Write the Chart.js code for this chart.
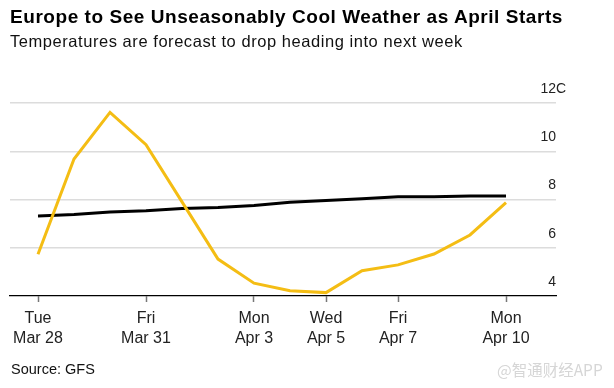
<!DOCTYPE html>
<html>
<head>
<meta charset="utf-8">
<script src="https://cdn.jsdelivr.net/npm/chart.js@4.4.0/dist/chart.umd.min.js"></script>
<style>
  html, body { margin: 0; padding: 0; background: #fff; }
  #wrap { position: relative; width: 614px; height: 388px; overflow: hidden; font-family: "Liberation Sans", Arial, sans-serif; }
  #c { position: absolute; left: 0; top: 0; }
  .t { position: absolute; white-space: nowrap; color: #000; line-height: 1; }
  #title { left: 10px; top: 6.6px; font-size: 19px; font-weight: bold; letter-spacing: 0.55px; }
  #sub { left: 10px; top: 32.7px; font-size: 16.5px; color: #111; letter-spacing: 0.55px; }
  #src { left: 11px; top: 361.7px; font-size: 14.5px; color: #111; }
  #wm { left: 497px; top: 362px; font-size: 15.5px; color: #d6d6d6; font-family: "Noto Sans CJK SC", sans-serif; }
</style>
</head>
<body>
<div id="wrap">
  <canvas id="c" width="614" height="388"></canvas>
  <div class="t" id="title">Europe to See Unseasonably Cool Weather as April Starts</div>
  <div class="t" id="sub">Temperatures are forecast to drop heading into next week</div>
  <div class="t" id="src">Source: GFS</div>
  <div class="t" id="wm">@智通财经APP</div>
</div>
<script>
// Daily dates, Mar 28 .. Apr 10
const dates = ["Mar 28","Mar 29","Mar 30","Mar 31","Apr 1","Apr 2","Apr 3","Apr 4","Apr 5","Apr 6","Apr 7","Apr 8","Apr 9","Apr 10"];
const weekdays = ["Tue","Wed","Thu","Fri","Sat","Sun","Mon","Tue","Wed","Thu","Fri","Sat","Sun","Mon"];
// Forecast temperature (yellow)
const forecast = [5.73, 9.68, 11.61, 10.27, 7.9, 5.53, 4.53, 4.22, 4.14, 5.05, 5.29, 5.74, 6.53, 7.87];
// Normal temperature (black)
const normal = [7.32, 7.38, 7.48, 7.53, 7.63, 7.67, 7.75, 7.89, 7.96, 8.03, 8.11, 8.11, 8.14, 8.14];
// Labelled x ticks (indices into dates)
const xTickIdx = [0, 3, 6, 8, 10, 13];
// Y ticks
const yTicks = [4, 6, 8, 10, 12];
const yUnit = "C";

const pts = arr => arr.map((v, i) => ({ x: i, y: v }));

const unitPlugin = {
  id: 'unit',
  afterDraw(chart) {
    const y = chart.scales.y;
    const ctx = chart.ctx;
    ctx.save();
    ctx.font = '14px "Liberation Sans", Arial, sans-serif';
    ctx.fillStyle = '#222';
    ctx.textAlign = 'left';
    ctx.textBaseline = 'middle';
    ctx.fillText(yUnit, chart.chartArea.right, y.getPixelForValue(12) - 14);
    ctx.restore();
  }
};

new Chart(document.getElementById('c'), {
  type: 'line',
  data: {
    datasets: [
      { label: 'Normal', data: pts(normal), borderColor: '#000', borderWidth: 3, pointRadius: 0, tension: 0, order: 2 },
      { label: 'Forecast', data: pts(forecast), borderColor: '#f4bd14', borderWidth: 3, pointRadius: 0, tension: 0, order: 1 }
    ]
  },
  options: {
    responsive: false,
    animation: false,
    layout: { padding: { left: 10, right: 58, top: 103, bottom: 0 } },
    plugins: { legend: { display: false }, tooltip: { enabled: false } },
    scales: {
      x: {
        type: 'linear',
        min: -28/36,
        max: 13 + 50/36,
        afterBuildTicks: s => { s.ticks = xTickIdx.map(v => ({ value: v })); },
        afterFit: s => { s.height = 92; },
        grid: { display: true, drawOnChartArea: false, drawTicks: true, tickLength: 6, tickColor: '#777', tickWidth: 1.5 },
        border: { display: true, color: '#000', width: 1.3 },
        ticks: {
          autoSkip: false, maxRotation: 0, padding: 7,
          color: '#222',
          font: { family: '"Liberation Sans", Arial, sans-serif', size: 16, lineHeight: 1.25 },
          callback: v => [weekdays[v], dates[v]]
        }
      },
      y: {
        position: 'right',
        min: 4, max: 12,
        afterBuildTicks: s => { s.ticks = yTicks.map(v => ({ value: v })); },
        afterFit: s => { s.width = 0; },
        grid: { drawTicks: false, color: c => c.tick && c.tick.value === 4 ? 'rgba(0,0,0,0)' : '#dcdcdc', lineWidth: 1.5 },
        border: { display: false },
        ticks: {
          mirror: true, padding: 0, labelOffset: -14,
          color: '#222',
          font: { family: '"Liberation Sans", Arial, sans-serif', size: 14 },
          callback: v => String(v)
        }
      }
    }
  },
  plugins: [unitPlugin]
});
</script>
</body>
</html>
